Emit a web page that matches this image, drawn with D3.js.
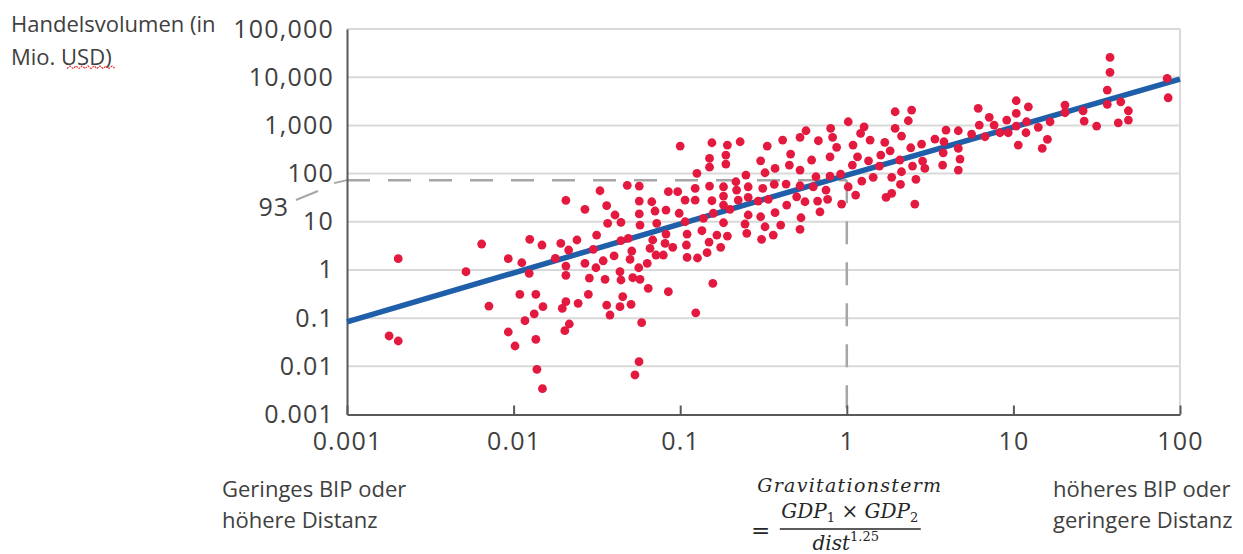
<!DOCTYPE html>
<html>
<head>
<meta charset="utf-8">
<script src="https://cdn.jsdelivr.net/npm/d3@7"></script>
<style>
  body { margin: 0; background: #fff; }
  svg { display: block; }
  svg text { font-family: "Open Sans", sans-serif; fill: #404040; }
  .formula { font-family: "DejaVu Serif", serif; font-style: italic; fill: #262626; }
</style>
</head>
<body>
<svg width="1243" height="554"></svg>
<script>
const xTicks = [0.001, 0.01, 0.1, 1, 10, 100];
const xTickLabels = ["0.001", "0.01", "0.1", "1", "10", "100"];
const yTicks = [0.001, 0.01, 0.1, 1, 10, 100, 1000, 10000, 100000];
const yTickLabels = ["0.001", "0.01", "0.1", "1", "10", "100", "1,000", "10,000", "100,000"];

// gravity term (x) and trade volume in Mio. USD (y)
const gravityTerm = [
  0.00179, 0.00203, 0.00203, 0.00518, 0.00643, 0.00711, 0.00929, 0.00929, 0.0102, 0.0112,
  0.0109, 0.0117, 0.0124, 0.0125, 0.0133, 0.0136, 0.0136, 0.0138, 0.0148, 0.0150,
  0.0149, 0.0178, 0.0192, 0.0196, 0.0203, 0.0206, 0.0206, 0.0206, 0.0206, 0.0214,
  0.0216, 0.0240, 0.0244, 0.0268, 0.0268, 0.0281, 0.0285, 0.0301, 0.0315, 0.0312,
  0.0330, 0.0481, 0.0568, 0.0568, 0.0675, 0.0362, 0.0406, 0.0367, 0.0441, 0.0568,
  0.0574, 0.0723, 0.0345, 0.0401, 0.0441, 0.0488, 0.0512, 0.0500, 0.0684, 0.0659,
  0.0716, 0.0634, 0.0564, 0.0354, 0.0435, 0.0441, 0.0519, 0.0574, 0.0643, 0.0362,
  0.0379, 0.0435, 0.0452, 0.0507, 0.0587, 0.0566, 0.0535, 0.100, 0.0849, 0.0966,
  0.107, 0.0706, 0.0822, 0.0986, 0.107, 0.0822, 0.0811, 0.0902, 0.110, 0.109,
  0.0792, 0.110, 0.0849,
  0.155, 0.192, 0.229, 0.333, 0.412, 0.524, 0.569, 0.675, 0.800, 0.822,
  1.02, 0.150, 0.188, 0.188, 0.304, 0.460, 0.452, 0.615, 0.793, 0.869,
  0.126, 0.150, 0.248, 0.323, 0.371, 0.524, 0.123, 0.150, 0.182, 0.216,
  0.218, 0.256, 0.313, 0.367, 0.432, 0.524, 0.653, 0.793, 0.918, 0.629,
  0.750, 1.02, 0.123, 0.155, 0.182, 0.182, 0.223, 0.256, 0.294, 0.338,
  0.436, 0.500, 0.561, 0.668, 0.767, 0.931, 0.138, 0.158, 0.199, 0.256,
  0.304, 0.371, 0.531, 0.690, 0.182, 0.245, 0.323, 0.401, 0.524, 0.135,
  0.166, 0.192, 0.251, 0.308, 0.362, 0.149, 0.175, 0.145, 0.127, 0.157,
  0.124,
  1.95, 2.45, 2.34, 1.27, 1.21, 1.95, 2.13, 1.38, 1.69, 1.09,
  1.82, 2.81, 2.42, 3.38, 3.94, 4.67, 3.83, 5.61, 6.15, 7.16,
  7.66, 6.24, 9.12, 10.4, 10.4, 6.75, 8.30, 9.31, 10.7, 1.16,
  1.35, 1.60, 2.08, 1.57, 1.08, 2.85, 2.94, 2.48, 3.79, 3.76,
  4.67, 4.78, 4.67, 1.44, 1.23, 1.86, 2.13, 2.10, 2.60, 1.13,
  1.72, 1.86, 2.56,
  38.0, 38.0, 36.6, 36.6, 44.1, 49.0, 49.0, 42.6, 83.8, 84.9,
  26.2, 26.6, 31.6, 20.4, 20.4, 16.6, 14.1, 16.0, 14.9, 12.3,
  10.4, 11.9, 12.0
];
const tradeVolume = [
  0.0426, 0.0335, 1.71, 0.918, 3.45, 0.178, 1.71, 0.0515, 0.0264, 1.41,
  0.312, 0.0883, 0.851, 4.32, 0.123, 0.312, 0.0363, 0.00867, 3.29, 0.173,
  0.00343, 1.74, 3.56, 0.160, 0.0548, 1.20, 0.773, 0.219, 27.8, 2.59,
  0.0755, 4.18, 0.203, 18.1, 1.37, 0.312, 0.679, 2.68, 5.30, 1.11,
  44.0, 56.9, 55.1, 26.9, 26.0, 21.7, 13.8, 9.27, 9.72, 14.5,
  8.55, 9.27, 1.55, 1.95, 4.04, 4.53, 2.47, 1.66, 4.18, 2.81,
  2.04, 1.37, 1.11, 0.638, 0.918, 0.618, 0.689, 0.638, 0.415, 0.187,
  0.116, 0.173, 0.278, 0.193, 0.0803, 0.0125, 0.00661, 372, 42.0, 42.0,
  28.2, 16.7, 17.5, 15.0, 10.0, 5.56, 3.56, 2.94, 5.56, 3.29,
  2.04, 1.82, 0.353,
  436, 391, 457, 372, 495, 564, 773, 480, 867, 564,
  1189, 207, 242, 157, 184, 254, 150, 191, 223, 350,
  101, 136, 93.1, 104, 128, 118, 49.3, 55.1, 53.2, 67.6,
  45.5, 53.2, 49.3, 59.7, 60.6, 55.8, 85.9, 88.7, 97.7, 53.2,
  45.5, 53.2, 28.2, 27.3, 34.1, 22.2, 28.2, 32.1, 26.9, 29.2,
  22.2, 33.0, 26.0, 26.9, 29.2, 23.3, 11.8, 15.0, 18.1, 13.8,
  12.7, 15.4, 12.1, 16.1, 9.53, 8.97, 7.87, 8.55, 6.96, 6.51,
  5.30, 5.05, 5.74, 4.32, 5.30, 3.79, 2.94, 2.28, 1.77, 0.527,
  0.129,
  1918, 2080, 1247, 935, 683, 867, 600, 495, 445, 391,
  297, 409, 343, 520, 800, 773, 457, 661, 2254, 1466,
  1014, 1014, 1288, 3243, 1774, 581, 703, 703, 391, 223,
  184, 242, 191, 143, 150, 182, 128, 143, 270, 150,
  333, 200, 118, 83.4, 70.0, 83.4, 109, 59.7, 75.9, 35.8,
  32.1, 38.9, 23.3,
  25760, 12590, 5400, 2730, 3090, 2010, 1288, 1132, 9440, 3740,
  2010, 1230, 968, 2640, 1830, 1189, 910, 513, 333, 2430,
  968, 703, 1189
];

// fitted line
const trendX = [0.001, 1, 100];
const trendY = [0.084, 93, 9100];

// dashed reading guide
const guideX = 1;
const guideY = 73;
const guideLabel = "93";

const svg = d3.select("svg");
const width = +svg.attr("width");
const height = +svg.attr("height");

svg.append("rect").attr("width", width).attr("height", height).attr("fill", "#fff");

const x = d3.scaleLog().domain([0.001, 100]).range([347, 1180]);
const y = d3.scaleLog().domain([0.001, 100000]).range([414.5, 29]);

// horizontal grid
svg.append("g")
  .selectAll("line")
  .data(yTicks.slice(1))
  .enter()
  .append("line")
  .attr("x1", x(0.001))
  .attr("x2", x(100))
  .attr("y1", d => y(d))
  .attr("y2", d => y(d))
  .attr("stroke", "#d9d9d9")
  .attr("stroke-width", 2);

svg.append("line")
  .attr("x1", x(100)).attr("x2", x(100))
  .attr("y1", y(100000)).attr("y2", y(0.001))
  .attr("stroke", "#d9d9d9")
  .attr("stroke-width", 2);

// dashed guide lines
svg.append("line")
  .attr("x1", x(0.001)).attr("x2", x(guideX))
  .attr("y1", y(guideY)).attr("y2", y(guideY))
  .attr("stroke", "#a6a6a6")
  .attr("stroke-width", 2.5)
  .attr("stroke-dasharray", "23 18");

svg.append("line")
  .attr("x1", x(guideX)).attr("x2", x(guideX))
  .attr("y1", y(guideY)).attr("y2", y(0.001))
  .attr("stroke", "#a6a6a6")
  .attr("stroke-width", 2.5)
  .attr("stroke-dasharray", "23 18");

// leader from "93" to the axis
svg.append("line")
  .attr("x1", 296).attr("y1", 200).attr("x2", 318).attr("y2", 191)
  .attr("stroke", "#a6a6a6").attr("stroke-width", 2);
svg.append("line")
  .attr("x1", 334).attr("y1", y(guideY) + 3).attr("x2", x(0.001)).attr("y2", y(guideY))
  .attr("stroke", "#a6a6a6").attr("stroke-width", 2);

svg.append("text")
  .attr("x", 289)
  .attr("y", 216)
  .attr("text-anchor", "end")
  .style("font-size", "25px")
  .style("letter-spacing", "1px")
  .text(guideLabel);

// axes
const xAxis = svg.append("g")
  .attr("transform", `translate(0,${y(0.001)})`)
  .call(d3.axisBottom(x)
    .tickValues(xTicks)
    .tickFormat((d, i) => xTickLabels[i])
    .tickSizeInner(-9)
    .tickSizeOuter(0)
    .tickPadding(18));

const yAxis = svg.append("g")
  .attr("transform", `translate(${x(0.001)},0)`)
  .call(d3.axisLeft(y)
    .tickValues(yTicks)
    .tickFormat((d, i) => yTickLabels[i])
    .tickSize(0)
    .tickPadding(13));

[xAxis, yAxis].forEach(g => {
  g.select(".domain").attr("stroke", "#595959").attr("stroke-width", 2);
  g.selectAll(".tick line").attr("stroke", "#595959").attr("stroke-width", 2);
  g.selectAll(".tick text")
    .style("font-family", '"Open Sans", sans-serif')
    .style("font-size", "25px")
    .style("letter-spacing", "1.2px")
    .attr("fill", "#404040");
});

// trend line
const line = d3.line().x(d => x(d[0])).y(d => y(d[1]));
svg.append("path")
  .datum(d3.zip(trendX, trendY))
  .attr("d", line)
  .attr("fill", "none")
  .attr("stroke", "#1f5faa")
  .attr("stroke-width", 5.5);

// observations
svg.append("g")
  .selectAll("circle")
  .data(d3.zip(gravityTerm, tradeVolume))
  .enter()
  .append("circle")
  .attr("cx", d => x(d[0]))
  .attr("cy", d => y(d[1]))
  .attr("r", 4.4)
  .attr("fill", "#e3193f");

// axis title
svg.append("text").attr("x", 11).attr("y", 32).style("font-size", "22px").text("Handelsvolumen (in");
svg.append("text").attr("x", 11).attr("y", 65).style("font-size", "22px").text("Mio. USD)");

// spell-check squiggle under "USD"
const sq = d3.range(67, 118, 3).map((px, i) => [px, i % 2 ? 66 : 68.5]);
svg.append("path")
  .attr("d", d3.line()(sq))
  .attr("fill", "none")
  .attr("stroke", "#e8343a")
  .attr("stroke-width", 1.2)
  .attr("stroke-dasharray", "2 1");

// bottom captions
svg.append("text").attr("x", 222).attr("y", 497).style("font-size", "22px").text("Geringes BIP oder");
svg.append("text").attr("x", 222).attr("y", 528).style("font-size", "22px").text("höhere Distanz");
svg.append("text").attr("x", 1053).attr("y", 497).style("font-size", "22px").text("höheres BIP oder");
svg.append("text").attr("x", 1053).attr("y", 528).style("font-size", "22px").text("geringere Distanz");

// formula
const cx = x(1) + 3;
svg.append("text").attr("class", "formula")
  .attr("x", cx).attr("y", 492)
  .attr("text-anchor", "middle")
  .style("font-size", "19px")
  .style("letter-spacing", "1.3px")
  .text("Gravitationsterm");

const num = svg.append("text").attr("class", "formula")
  .attr("x", cx).attr("y", 518)
  .attr("text-anchor", "middle")
  .style("font-size", "20px");
num.append("tspan").text("GDP");
num.append("tspan").attr("dy", 4).style("font-size", "13px").style("font-style", "normal").text("1");
num.append("tspan").attr("dy", -4).style("font-style", "normal").text(" × ");
num.append("tspan").text("GDP");
num.append("tspan").attr("dy", 4).style("font-size", "13px").style("font-style", "normal").text("2");

svg.append("line")
  .attr("x1", cx - 70).attr("x2", cx + 71)
  .attr("y1", 529).attr("y2", 529)
  .attr("stroke", "#262626").attr("stroke-width", 1.5);

svg.append("text").attr("class", "formula")
  .attr("x", 751).attr("y", 538)
  .style("font-size", "23px").style("font-style", "normal")
  .text("=");

const den = svg.append("text").attr("class", "formula")
  .attr("x", cx - 4).attr("y", 550)
  .attr("text-anchor", "middle")
  .style("font-size", "20px");
den.append("tspan").text("dist");
den.append("tspan").attr("dy", -9).style("font-size", "13px").style("font-style", "normal").text("1.25");
</script>
</body>
</html>
